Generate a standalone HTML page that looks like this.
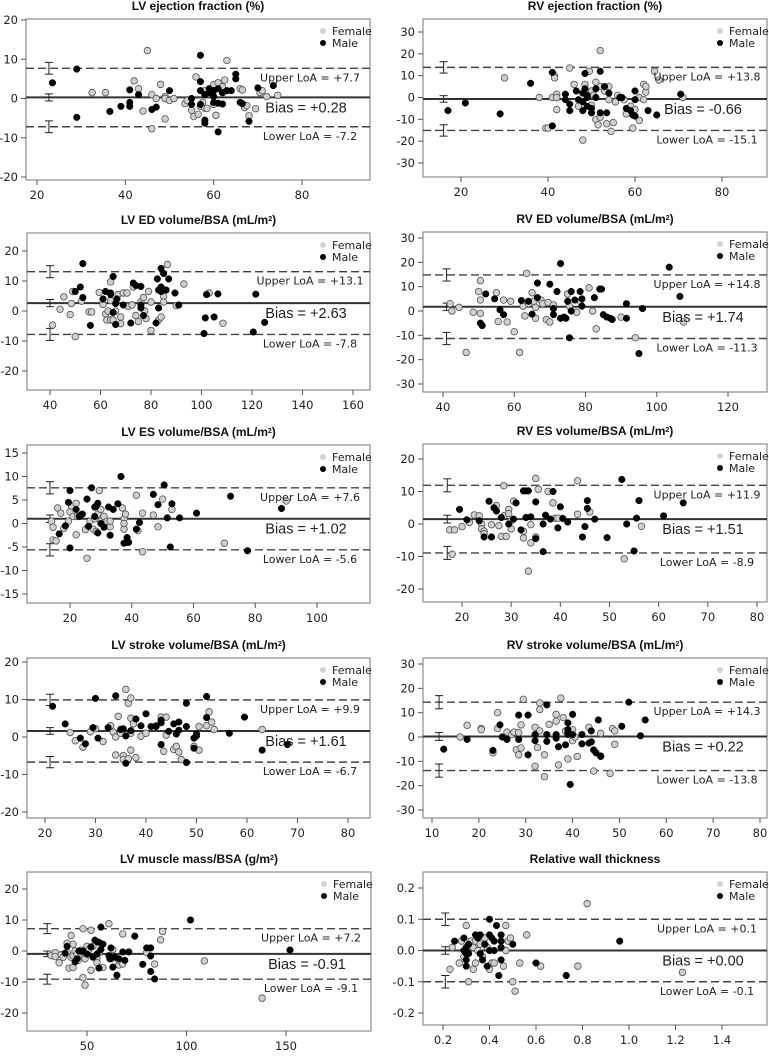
<!DOCTYPE html>
<html><head><meta charset="utf-8">
<style>
html,body{margin:0;padding:0;background:#fff;}
svg{display:block;}
text{font-family:"DejaVu Sans","Liberation Sans",sans-serif;fill:#222;}
.title{font-family:"Liberation Sans",sans-serif;font-weight:bold;font-size:12px;fill:#111;}
.tick{font-size:11.5px;}
.loa{font-size:11px;}
.bias{font-family:"Liberation Sans",sans-serif;font-size:14.5px;}
.leg{font-size:11px;}
</style></head>
<body>
<svg id="fig" width="769" height="1056" viewBox="0 0 769 1056" xmlns="http://www.w3.org/2000/svg"></svg>
<script>
// ---- Panel 1: LV ejection fraction ----
const p1Female=[[32.5,1.5],[35.5,1.5],[42,4.5],[43,2.5],[44,-3.2],[45,12.2],[46,1],[46,-7.7],[47,0],[48,3.6],[49,0.5],[49,-5.2],[49,0],[50,-0.5],[51,0],[53.5,-1.3],[54,-0.5],[55,-3],[55.5,-4.6],[56,5.5],[56.5,-4],[57,-2],[58,-2.5],[58,2],[58.5,-2.5],[60,3.5],[60,2],[60.5,-4.3],[61,4],[62,3],[62,1.5],[62.5,4.7],[63,9.7],[66,2.5],[66.5,2.2],[67,-2.3],[67.5,-1.8],[68,-4.4],[69.5,-2.6],[70.5,1.5],[71,2],[72,0.5],[74.5,0.8],[60,-1.5],[57.5,-1]];
const p1Male=[[29,7.5],[23.5,4],[29,-4.8],[36.5,-3.3],[39,-2],[41,2.2],[41,-1],[41,-2],[43,1],[46,-2.8],[47,-2.2],[50,2],[55,0],[55,-1.5],[57,11],[57,4.3],[57,-1.5],[57,2],[58,-5.5],[58,-6.3],[59,1.5],[59,2.5],[60,0.5],[60,2],[61,-1.2],[61,-8.5],[61,2.5],[62,-1.4],[63,2],[64,2],[65,6.2],[65,5],[66,-1],[66.5,-1.3],[68,-5.8],[70,2.7],[73.5,3.3],[58,1],[60,-1],[62,1.5]];
const p1Stats=[0.28,7.7,-7.2];
// ---- Panel 2: RV ejection fraction ----
const p2Female=[[30,9],[38,0],[39.5,-14],[41,0],[41.5,10],[41.5,9],[42,1.5],[42,0],[42,-5.5],[45,13.5],[46,6],[47,-4],[48.5,6],[49.5,12],[50,-3.5],[50,3],[50.5,1],[51,-10],[51,7],[51.5,-12.5],[52,5],[52,-9],[52,21.5],[53,3],[53.5,-12],[54,5],[54,-1],[54.5,-15.5],[55,-11.5],[55.5,-2],[56,1],[57.5,-1],[58,-7.5],[59,-4],[59.5,-14],[60,-5.5],[61,-10.5],[61,0],[62,6],[62,-1],[62.5,2.5],[62.5,5],[64.5,12],[65.5,8],[71,0],[48,-19.5],[40,-14]];
const p2Male=[[17,-6],[21,-2.5],[29,-7.5],[36,6.5],[41,11.5],[41,-13],[44,1.5],[44,-1],[45,-3],[45,-6],[46.5,3],[48,-2],[48,-6],[48,2],[48.5,11],[48.5,4],[49,-4],[49,0],[49,1],[50,-5],[50,-7],[51,4],[52,12],[52,-7],[53,5],[53.5,-7],[54,2],[56.5,0],[57,0],[58,-5],[59,-6],[59.5,-8],[60,-1],[60,3],[60,-8.5],[63,-6],[65,-8],[70.5,1.5],[47,-1],[51,0]];
const p2Stats=[-0.66,13.8,-15.1];
// ---- Panel 3: LV ED volume ----
const p3Female=[[41,-4.7],[44,0.6],[45.5,4.7],[48,-1.2],[48.5,2.5],[49,6.5],[50,-8.5],[52.5,3.3],[55.5,-0.3],[56.5,-0.3],[59.5,6.2],[61,2.2],[62,-1],[62.5,-3],[63,0],[64,9.7],[64,3.5],[64,-3],[65,-3],[66,0],[67,5.5],[68,-2],[68,-4.2],[69,6],[70.5,6],[71,1.5],[72.5,2],[73,8],[74,-1.5],[75,-3.5],[76,3],[77,4.5],[77.5,0],[78,-2.5],[79,6.5],[80,3],[80,-6.5],[83,-3],[84,-2],[85,4.8],[85,3],[86.5,15.5],[90,1.8],[93,9],[103,6],[108.5,-4.1]];
const p3Male=[[50,6.5],[52,8],[53,4.5],[53,15.8],[56,-4.8],[61,4],[62,6.5],[64,5.5],[64,6],[65,-0.5],[65,11.5],[66,2.5],[66,-4.5],[66.5,4],[69,2],[72,-4],[73,9.3],[74,8.5],[76,8.2],[76,2],[76,1],[77,-1.5],[82,-4],[82.5,10.7],[83,1],[83,7],[84,8],[84,14.2],[85,12.5],[86,7],[87,10.7],[89.5,6],[91,2],[101,-7.5],[101.5,-2.3],[102,5.5],[105,-2],[106.5,5.7],[120.5,-7],[121.5,5.6],[125,-3.8],[84,6.5]];
const p3Stats=[2.63,13.1,-7.8];
// ---- Panel 4: RV ED volume ----
const p4Female=[[42,3],[42.5,0],[44.5,1.5],[46.5,-17],[48.5,-0.5],[50,8],[50.5,12.5],[50.5,4.5],[50.5,-1],[55,7.5],[55.5,-4.3],[57,4.5],[58,-4.5],[59,4],[60,-8.5],[61.5,-17],[62.5,2],[63,-2],[63.5,15.5],[64,3],[65,7.5],[65.5,4],[66,1.5],[66,-3],[67.5,4.5],[68,3],[69,-3.5],[69.5,3.5],[70,-4.5],[71,2.5],[75,7],[75.5,2],[77.5,-0.5],[78.5,4],[81,9.5],[82,0],[83,-7.3],[90,-2.5],[94,-11],[107.5,-4.5]];
const p4Male=[[50.5,-5],[51,-6],[52,7],[54.5,5],[56,0.5],[57,-1.5],[62,4.3],[64,4],[65,-1.3],[66.5,11.5],[66.5,5.5],[70,11],[71,1],[71,-1.5],[72,8],[73,19.5],[74,-2.5],[74.5,-3],[75,4],[76,8],[75.5,-11],[76,0],[77,4.5],[78.5,8],[79,2],[79,5],[82.5,5.5],[84,9],[84.5,9],[85,-1.5],[86,-2.5],[87,-3],[87.5,-3.5],[91.5,3],[91.5,-3],[96,1],[95,-17.5],[103.5,18],[106.5,6],[73,-3]];
const p4Stats=[1.74,14.8,-11.3];
// ---- Panel 5: LV ES volume ----
const p5Female=[[14,0.5],[14.5,-0.8],[14.5,-3.5],[15.5,-3.7],[16,3.3],[17,2.2],[18,-1],[19.5,0.5],[20,2.5],[20.5,3.7],[21,1.5],[22,4.3],[22,-2.4],[22.5,1.5],[25,-1.3],[25.5,-7.4],[26.5,0.5],[27.5,-1.2],[28,1],[28.5,-1.7],[29,2],[29.5,7],[30,3],[30,0.5],[31,1.5],[31.5,-0.6],[32,0.5],[33,-0.7],[33,0.5],[37,3.3],[37.5,1],[37.5,-1.2],[38,2],[37.5,0],[41.5,6],[42,-1.5],[43.5,2.2],[43.5,-6],[47,1.8],[48.5,-0.7],[50,5.2],[53,3],[70,-4.2],[90,4.8]];
const p5Male=[[16.5,-2.2],[18.5,-0.5],[19.5,4.5],[20,7],[20,-5.2],[22,3],[23.5,1.8],[24,2],[25.5,5.2],[26,-0.6],[27,7.6],[28,3.5],[28.5,3.7],[29,-2],[29,4.3],[30,0],[31,-0.8],[32.5,3.5],[33,-2.5],[34,3],[35.5,4.2],[36.5,10],[37.5,-4.2],[38.5,-3],[38.5,-4],[39,-4],[41.5,-1.2],[42.5,0.2],[47,6.2],[48.5,4],[50.5,8.2],[51.5,1.2],[52.5,-5],[53,4.2],[55.5,1.2],[61,2.2],[72,5.8],[77.5,-5.8],[88.5,3.2],[23,1.5],[28,1.5]];
const p5Stats=[1.02,7.6,-5.6];
// ---- Panel 6: RV ES volume ----
const p6Female=[[17.5,-1.8],[18,-9.3],[18.5,-1.8],[20,-0.8],[21.5,0.5],[22.5,2.8],[23.5,2.5],[24,0],[24,-1.5],[24.5,-2.2],[24.5,-3],[26,-0.2],[27,5.7],[27.5,-0.5],[28,-3.8],[28.5,11.8],[28.5,2.5],[29,-3.8],[29.5,4.5],[29.5,3.2],[30,1],[30,-1.5],[30.5,7],[32.5,-4.3],[32.5,-2.2],[33.5,-14.5],[34,-5.8],[34,-0.2],[35,14],[35,-4],[35.5,10.7],[37.5,10],[38.5,6.5],[39,1.8],[39.5,1.8],[43.5,3],[43.5,13.3],[46,3.7],[53,-10.7],[56.5,-0.7]];
const p6Male=[[19.5,4.5],[21,1.3],[23.5,1],[24.5,-4],[25.5,7],[26,-4],[26.5,5],[27,4],[28,2],[29.5,0],[30.5,1.5],[31,6.5],[32,-1.8],[32.5,10.2],[33,10.2],[33,2],[33.5,10.2],[34,2.2],[35,6.8],[35,-4.5],[36.5,-8.5],[36.5,0],[37,2.7],[38,1.5],[38.5,10],[39.5,-1.2],[40,5.3],[40.5,1.7],[41.5,0.6],[44.5,-4],[45,-0.8],[45.5,7.2],[45.5,4.8],[47,1.5],[49.5,-4.2],[52.5,13.7],[53.5,0],[55,-8.3],[55.5,1.8],[56,7.2],[61,2.5],[65,6.5]];
const p6Stats=[1.51,11.9,-8.9];
// ---- Panel 7: LV stroke volume ----
const p7Female=[[25,1.2],[26,-1],[27.5,-2.7],[29,1.4],[30,2.2],[31.5,-1.2],[33,3],[33.5,1.3],[34,0],[34,-4.8],[34.5,5.5],[35,2],[35,1],[35.5,-5],[35.5,-6],[36,12.7],[36.5,9],[36.5,-5.8],[37,-3.5],[37,5],[37,10.4],[37.5,3.5],[38,-5.5],[39,0.2],[40,1],[42,3],[43,5.3],[43.5,-3.8],[44,5.3],[44,0.5],[45.5,-3.3],[46,-2.5],[46.5,-4],[47,-6],[49.5,-2.5],[50.5,-3.5],[50.5,2.8],[52,3],[52.5,6.7],[53,4],[53.5,2],[63,2],[37,1]];
const p7Male=[[21.5,8.2],[24,3.5],[27,-0.3],[28,-1.8],[29.5,2.5],[30,10.3],[30.5,-0.3],[32.5,2.5],[34,11],[35,2],[35.5,2.2],[36,0.3],[36,-7],[37,1.7],[38,4.8],[39,3],[40,6.2],[41,2.8],[42,2.8],[43,-2],[43,3.8],[43,4.5],[44.5,1.5],[45.5,3.5],[46,0.8],[46.5,4],[46.5,1.8],[48,-6.8],[48,2.8],[48,9],[49.5,-3],[49.5,-0.3],[50,0.3],[52,10.8],[52,5.2],[56.5,1],[59.5,5.3],[63,-3.5],[68,-2],[50,0.8]];
const p7Stats=[1.61,9.9,-6.7];
// ---- Panel 8: RV stroke volume ----
const p8Female=[[16,0],[17.5,4.8],[20.5,3.5],[20.5,3],[23,-6.5],[24,3.5],[24,10],[26,2],[27,1],[27.5,2],[28,-5.2],[28.5,-7.3],[28.5,1.8],[29,-4.5],[29,5],[29.5,15.5],[32,4],[32,-12],[32.5,-4.3],[33,14],[33,11.3],[33,2.5],[34,-7.3],[34,-16.3],[35,5.2],[36.5,9.3],[36.5,6.5],[37,-11.5],[37.5,16],[38,8],[38.5,2.5],[39,-9],[40,3],[40,-1.5],[40.5,0],[41,-8],[43.5,4],[44.5,-14],[46,1.5],[48,-15],[48.5,3.5],[49,2.5],[49,-3]];
const p8Male=[[12.5,-5],[17.5,-1],[23,-5.5],[24.5,5],[25,0],[26,-1],[28.5,9],[28.5,-1],[30.5,9],[30.5,-7.3],[32,-1.5],[32,1],[34.5,13.2],[34.5,1],[34.5,-1.8],[36.5,1],[36.5,-0.5],[37,-4],[38.5,-3.2],[39,5.8],[39,3],[39,1],[39.5,-19.5],[40,9.3],[40,1],[42,1],[42,-2.8],[43.5,-2.5],[44,2.5],[44,-2],[44.5,-5.3],[45,-6.5],[45.5,7],[46,-7.8],[46,-8],[50.5,4.4],[52,14.3],[54.5,0.5],[55.5,7],[39,2]];
const p8Stats=[0.22,14.3,-13.8];
// ---- Panel 9: LV muscle mass ----
const p9Female=[[32,-1.5],[34,-0.5],[34,-1.8],[36,-3.8],[37,-1.2],[38,-2],[40,2.5],[40,-0.5],[41,-5.5],[42,5],[42,-2],[43,-1.5],[43,-5.3],[43,2.2],[44,0],[45,-1],[45.5,-3],[47,0.3],[48,7.2],[48,-8.6],[48.5,-2.2],[49,-11],[49,-2.5],[50,1.5],[51,0.5],[52,6.7],[52,-6.2],[53,1.5],[55,-2.4],[55,-3.8],[56,-0.5],[58,-5.3],[61,8.8],[62,-2.5],[63,0.5],[66,-4.5],[66,-3],[68,5.5],[68,-4.2],[80,-0.5],[84,-4.2],[87,3.6],[88,6.3],[109,-3.2],[138,-15.2]];
const p9Male=[[39,-0.7],[40,1.5],[44,-3.5],[45,-2.5],[46,0],[48,0],[50,-1],[53,-2],[54,3.5],[55,3],[55,-1],[56,-5.5],[56,2.8],[57,7.7],[57,0.5],[58,2.2],[61,-1.5],[61.5,-2.5],[62,1],[63,-5.2],[64,-2],[65,-7.8],[66,-2.5],[68,-0.3],[69,-3],[71,-0.3],[74,4.8],[78,-4.3],[80,1],[82,1],[82,-6.6],[82,-1.6],[84,-9],[102,10],[152,0.3],[52,1.3]];
const p9Stats=[-0.91,7.2,-9.1];
// ---- Panel 10: Relative wall thickness ----
const p10Female=[[0.23,-0.06],[0.24,0.01],[0.27,-0.04],[0.28,0.03],[0.29,-0.02],[0.3,0.08],[0.31,-0.1],[0.32,0.03],[0.33,-0.06],[0.33,0.01],[0.34,0.03],[0.34,-0.04],[0.35,0],[0.36,0.02],[0.37,-0.02],[0.38,0.04],[0.39,0.01],[0.4,-0.06],[0.41,-0.04],[0.42,-0.04],[0.46,-0.05],[0.47,0.08],[0.47,0],[0.48,0.03],[0.49,0.04],[0.5,-0.1],[0.51,-0.13],[0.53,-0.04],[0.56,0.05],[0.62,-0.05],[0.78,-0.05],[0.82,0.15],[1.23,-0.07]];
const p10Male=[[0.25,0.03],[0.29,0.04],[0.29,0],[0.3,0.01],[0.3,-0.01],[0.3,-0.03],[0.3,-0.05],[0.31,0.02],[0.31,-0.01],[0.34,0.05],[0.35,0.04],[0.36,0.05],[0.36,-0.01],[0.37,-0.03],[0.38,0.02],[0.39,-0.05],[0.4,0.1],[0.4,0.05],[0.4,0],[0.41,0.04],[0.42,0.03],[0.42,0],[0.43,0.08],[0.44,-0.08],[0.45,0.05],[0.45,0.03],[0.45,0.01],[0.45,-0.03],[0.5,0.02],[0.6,-0.04],[0.73,-0.08],[0.96,0.03]];
const p10Stats=[0.00,0.1,-0.1];

const titles=["LV ejection fraction (%)","RV ejection fraction (%)","LV ED volume/BSA (mL/m|2|)","RV ED volume/BSA (mL/m|2|)","LV ES volume/BSA (mL/m|2|)","RV ES volume/BSA (mL/m|2|)","LV stroke volume/BSA (mL/m|2|)","RV stroke volume/BSA (mL/m|2|)","LV muscle mass/BSA (g/m|2|)","Relative wall thickness"];
const xTickLabels=[[20,40,60,80],[20,40,60,80],[40,60,80,100,120,140,160],[40,60,80,100,120],[20,40,60,80,100],[20,30,40,50,60,70,80],[20,30,40,50,60,70,80],[10,20,30,40,50,60,70,80],[50,100,150],[0.2,0.4,0.6,0.8,1.0,1.2,1.4]];
const yTickLabels=[[-20,-10,0,10,20],[-30,-20,-10,0,10,20,30],[-20,-10,0,10,20],[-30,-20,-10,0,10,20,30],[-15,-10,-5,0,5,10,15],[-20,-10,0,10,20],[-20,-10,0,10,20],[-30,-20,-10,0,10,20,30],[-20,-10,0,10,20],[-0.2,-0.1,0.0,0.1,0.2]];
const ciX=[22.7,16,40,41,13.5,17,21,11.5,30,0.21];
const ciBias=[0.9,1.5,1.2,1.5,0.8,1.2,0.9,1.6,0.9,0.012];
const ciLoa=[1.5,2.6,2,2.5,1.3,2,1.5,2.7,1.6,0.02];
const females=[p1Female,p2Female,p3Female,p4Female,p5Female,p6Female,p7Female,p8Female,p9Female,p10Female];
const males=[p1Male,p2Male,p3Male,p4Male,p5Male,p6Male,p7Male,p8Male,p9Male,p10Male];
const stats=[p1Stats,p2Stats,p3Stats,p4Stats,p5Stats,p6Stats,p7Stats,p8Stats,p9Stats,p10Stats];

const layout=[
 {box:[26,19,370,180],xm:[20,37,80,302],ym:[20,20,-20,177]},
 {box:[423,19,767,177],xm:[20,461,80,722],ym:[30,32,-30,163]},
 {box:[27,233,370,390],xm:[40,50,160,353],ym:[20,251,-20,371]},
 {box:[423,232,767,392],xm:[40,443,120,728],ym:[30,238,-30,384]},
 {box:[27,445,370,603],xm:[20,70,100,317],ym:[15,453,-15,594]},
 {box:[423,444,767,602],xm:[20,462,80,757],ym:[20,459,-20,589]},
 {box:[27,658,370,818],xm:[20,45,80,348],ym:[20,662,-20,812]},
 {box:[423,658,767,818],xm:[10,432,80,760],ym:[30,664,-30,810]},
 {box:[27,872,371,1031],xm:[50,87,150,286],ym:[20,889,-20,1013]},
 {box:[423,872,767,1025],xm:[0.2,443,1.4,722],ym:[0.2,888,-0.2,1013]}
];
const NS="http://www.w3.org/2000/svg";
const svg=document.getElementById('fig');
function mk(tag,attrs,parent){const e=document.createElementNS(NS,tag);for(const k in attrs)e.setAttribute(k,attrs[k]);(parent||svg).appendChild(e);return e;}
function fmtSigned(v,d){return (v>=0?'+':'')+v.toFixed(d);}
function dec(v){const s=String(v);return s.includes('.')?s.split('.')[1].length:0;}

for(let i=0;i<10;i++){
  const L=layout[i];const [bx0,by0,bx1,by1]=L.box;
  const sx=v=>L.xm[1]+(v-L.xm[0])*(L.xm[3]-L.xm[1])/(L.xm[2]-L.xm[0]);
  const sy=v=>L.ym[1]+(v-L.ym[0])*(L.ym[3]-L.ym[1])/(L.ym[2]-L.ym[0]);
  const g=mk('g',{});
  
  
  const clipId='clip'+i;
  const cp=mk('clipPath',{id:clipId},g);mk('rect',{x:bx0,y:by0,width:bx1-bx0,height:by1-by0},cp);
  const parts=titles[i].split('|');
  const t=mk('text',{x:(bx0+bx1)/2,y:by0-9,'text-anchor':'middle',class:'title'},g);
  
  
  t.appendChild(document.createTextNode(parts[0]));
  if(parts.length>1){const s=mk('tspan',{'baseline-shift':'super','font-size':'7px'},t);s.textContent=parts[1];const r=mk('tspan',{},t);r.textContent=parts[2];}
  const bx=mk('rect',{x:bx0,y:by0,width:bx1-bx0,height:by1-by0,fill:'none',stroke:'#777','stroke-width':1},g);
  
  
  const xd=Math.max(...xTickLabels[i].map(dec));
  xTickLabels[i].forEach(v=>{const x=sx(v);
    mk('line',{x1:x,x2:x,y1:by1,y2:by1+5,stroke:'#555'},g);
    const tl=mk('text',{x:x,y:by1+19,'text-anchor':'middle',class:'tick'},g);
    
    
    tl.textContent=v.toFixed(xd);});
  const yd=Math.max(...yTickLabels[i].map(dec));
  yTickLabels[i].forEach(v=>{const y=sy(v);
    mk('line',{x1:bx0-5,x2:bx0,y1:y,y2:y,stroke:'#555'},g);
    const tl=mk('text',{x:bx0-8,y:y+4,'text-anchor':'end',class:'tick'},g);
    
    
    tl.textContent=v.toFixed(yd);});
  const st=stats[i];
  const bl=mk('line',{x1:bx0,x2:bx1,y1:sy(st[0]),y2:sy(st[0]),stroke:'#333','stroke-width':2},g);
  
  
  [1,2].forEach(k=>{const l=mk('line',{x1:bx0,x2:bx1,y1:sy(st[k]),y2:sy(st[k]),stroke:'#444','stroke-width':1.4,'stroke-dasharray':'8,4'},g);
    
    });
  [[st[0],ciBias[i]],[st[1],ciLoa[i]],[st[2],ciLoa[i]]].forEach(([c,h])=>{
    const x=sx(ciX[i]);const eg=mk('g',{stroke:'#222','stroke-width':1},g);
    
    
    mk('line',{x1:x,x2:x,y1:sy(c+h),y2:sy(c-h)},eg);
    mk('line',{x1:x-4,x2:x+4,y1:sy(c+h),y2:sy(c+h)},eg);
    mk('line',{x1:x-4,x2:x+4,y1:sy(c-h),y2:sy(c-h)},eg);});
  const pg=mk('g',{'clip-path':'url(#'+clipId+')'},g);
  females[i].forEach(p=>{const c=mk('circle',{cx:sx(p[0]),cy:sy(p[1]),r:3.3,fill:'#d0d0d0',stroke:'#555','stroke-width':0.8},pg);
    
    });
  males[i].forEach(p=>{const c=mk('circle',{cx:sx(p[0]),cy:sy(p[1]),r:3.3,fill:'#000',stroke:'#000','stroke-width':0.5},pg);
    
    });
  const cx=bx1-60;
  const ut=mk('text',{x:cx,y:sy(st[1])+13,'text-anchor':'middle',class:'loa'},g);
  
  
  ut.textContent='Upper LoA = '+fmtSigned(st[1],1);
  const lt=mk('text',{x:cx,y:sy(st[2])+13,'text-anchor':'middle',class:'loa'},g);
  
  
  lt.textContent='Lower LoA = '+st[2].toFixed(1);
  const bt=mk('text',{x:cx-4,y:sy(st[0])+15,'text-anchor':'middle',class:'bias'},g);
  
  
  bt.textContent='Bias = '+fmtSigned(st[0],2);
  const lg=mk('g',{},g);
  
  
  mk('circle',{cx:bx1-47,cy:by0+12,r:3,fill:'#d3d3d3'},lg);
  mk('circle',{cx:bx1-47,cy:by0+24,r:3,fill:'#000'},lg);
  const f=mk('text',{x:bx1-38,y:by0+16,class:'leg'},lg);f.textContent='Female';
  const m=mk('text',{x:bx1-38,y:by0+28,class:'leg'},lg);m.textContent='Male';
}
</script>
</body></html>
